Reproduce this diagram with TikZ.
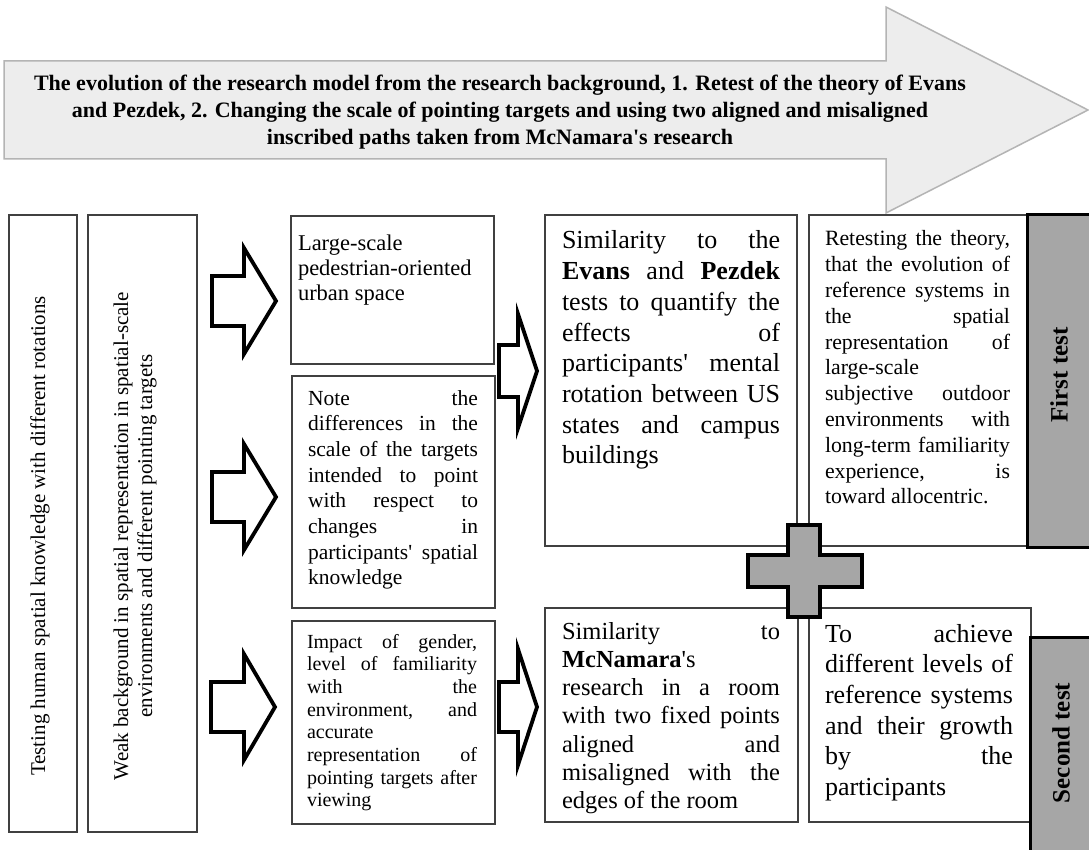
\documentclass[tikz,border=0pt]{standalone}
\usepackage{fontspec}
\setmainfont{Liberation Serif}[Ligatures=TeXOff]
\definecolor{boxgray}{HTML}{404040}
\definecolor{tabgray}{HTML}{A6A6A6}
\definecolor{arrowfill}{HTML}{EDEDED}
\definecolor{arrowdraw}{HTML}{B4B4B4}
\newcommand{\fsz}[2]{\fontsize{#1}{#2}\selectfont}
\newcommand{\J}[1]{\makebox[\linewidth][s]{#1}\\}
\tikzset{
  box/.style={draw=boxgray, line width=1.2pt},
  hollow/.style={draw=black, fill=white, line width=3.8pt, line join=miter},
  tabbox/.style={draw=black, fill=tabgray, line width=3pt},
  bigarrow/.style={draw=arrowdraw, fill=arrowfill, line width=1.5pt, line join=miter},
  plusshape/.style={draw=black, fill=tabgray, line width=3.5pt, line join=miter},
  txt/.style={anchor=base west, inner sep=0pt, outer sep=0pt},
  vtxt/.style={rotate=90, inner sep=0pt, align=center}
}
\begin{document}
\begin{tikzpicture}[x=1pt,y=-1pt]
\useasboundingbox (0,0) rectangle (1089,850);
\fill[white] (0,0) rectangle (1089,850);

% big arrow
\draw[bigarrow] (4,61) -- (886,61) -- (886,7) -- (1088,110) -- (886,213) -- (886,159) -- (4,159) -- cycle;
\node[inner sep=0pt, align=center, font=\bfseries\fsz{22}{26.7}] (title) at (500,112)
 {The evolution of the research model from the research background, 1. Retest of the theory of Evans\\
  and Pezdek, 2. Changing the scale of pointing targets and using two aligned and misaligned\\
  inscribed paths taken from McNamara's research};

% boxes
\draw[box] (9,215) rectangle (77,832);
\draw[box] (88,215) rectangle (197,832);
\draw[box] (291,216) rectangle (494,364);
\draw[box] (292,376) rectangle (495,608);
\draw[box] (292,621) rectangle (495,824);
\draw[box] (545,215) rectangle (797,546);
\draw[box] (809,215) rectangle (1027,546);
\draw[box] (545,608) rectangle (798,822);
\draw[box] (809,608) rectangle (1031,822);

% tabs
\draw[tabbox] (1027,215) rectangle (1100,547);
\draw[tabbox] (1030,637) rectangle (1100,862);
\node[vtxt, font=\bfseries\fsz{25}{28}] (first) at (1059,375) {First test};
\node[vtxt, font=\bfseries\fsz{25}{28}] (second) at (1061,743) {Second test};

% hollow arrows
\draw[hollow] (212,276) -- (244,276) -- (244,248) -- (276,301) -- (244,354) -- (244,326) -- (212,326) -- cycle;
\draw[hollow] (212,472) -- (244,472) -- (244,444) -- (276,497) -- (244,550) -- (244,522) -- (212,522) -- cycle;
\draw[hollow] (211,682) -- (244,682) -- (244,654) -- (275,707) -- (244,760) -- (244,732) -- (211,732) -- cycle;
\draw[hollow] (499,345) -- (518,345) -- (518,314) -- (537,371) -- (518,428) -- (518,397) -- (499,397) -- cycle;
\draw[hollow] (499,682) -- (518,682) -- (518,649) -- (537,707) -- (518,765) -- (518,732) -- (499,732) -- cycle;

% plus
\draw[plusshape] (788,525) -- (820,525) -- (820,555) -- (862,555) -- (862,587) -- (820,587) -- (820,617) -- (788,617) -- (788,587) -- (748,587) -- (748,555) -- (788,555) -- cycle;

% left vertical texts
\node[vtxt, font=\fsz{21}{24}] (testing) at (40,536) {Testing human spatial knowledge with different rotations};
\node[vtxt, font=\fsz{21}{24}] (weak) at (135,536) {Weak background in spatial representation in spatial-scale\\environments and different pointing targets};

% box texts
\node[txt, font=\fsz{22.5}{25}] (large) at (298,251) {\parbox[t]{190pt}{Large-scale\\pedestrian-oriented\\urban space}};

\node[txt, font=\fsz{21.5}{25.7}] (note) at (308,405) {\parbox[t]{170pt}{%
\J{Note the}\J{differences in the}\J{scale of the targets}\J{intended to point}\J{with respect to}\J{changes in}\J{participants' spatial}knowledge}};

\node[txt, font=\fsz{20}{22.7}] (impact) at (307,648) {\parbox[t]{170pt}{%
\J{Impact of gender,}\J{level of familiarity}\J{with the}\J{environment, and}accurate\\\J{representation of}\J{pointing targets after}viewing}};

\node[txt, font=\fsz{26}{30.7}] (evans) at (562,249) {\parbox[t]{218pt}{%
\J{Similarity to the}\J{\textbf{Evans} and \textbf{Pezdek}}\J{tests to quantify the}\J{effects of}\J{participants' mental}\J{rotation between US}\J{states and campus}buildings}};

\node[txt, font=\fsz{21.8}{25.8}] (retest) at (825,246) {\parbox[t]{185pt}{%
\J{Retesting the theory,}\J{that the evolution of}\J{reference systems in}\J{the spatial}\J{representation of}large-scale\\\J{subjective outdoor}\J{environments with}\J{long-term familiarity}\J{experience, is}toward allocentric.}};

\node[txt, font=\fsz{24.5}{28.3}] (mcn) at (562,639) {\parbox[t]{218pt}{%
\J{Similarity to}\textbf{McNamara}'s\\\J{research in a room}\J{with two fixed points}\J{aligned and}\J{misaligned with the}edges of the room}};

\node[txt, font=\fsz{26}{30.7}] (achieve) at (825,642) {\parbox[t]{188pt}{%
\J{To achieve}\J{different levels of}\J{reference systems}\J{and their growth}\J{by the}participants}};

\end{tikzpicture}
\end{document}
